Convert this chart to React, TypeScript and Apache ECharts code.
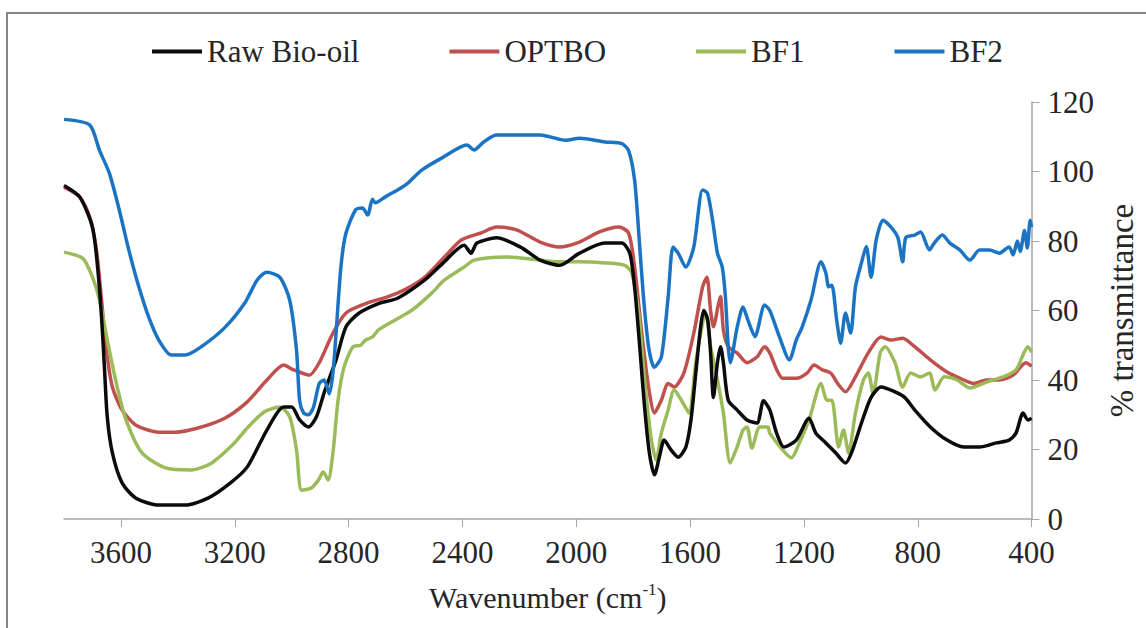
import React, { useEffect, useRef } from "react";
import * as echarts from "echarts";

// FTIR spectra: wavenumber (cm-1) and % transmittance for each sample
const rawWn = [3800, 3745, 3700, 3682, 3668, 3658, 3648, 3630, 3596, 3547, 3467, 3374, 3294, 3215, 3156, 3087, 3028, 3000, 2972, 2941, 2913, 2886, 2844, 2809, 2764, 2695, 2626, 2532, 2470, 2394, 2370, 2349, 2280, 2197, 2127, 2058, 1989, 1899, 1840, 1812, 1795, 1777, 1760, 1743, 1725, 1708, 1691, 1667, 1642, 1615, 1597, 1580, 1563, 1552, 1538, 1528, 1518, 1504, 1493, 1483, 1466, 1435, 1400, 1365, 1342, 1320, 1296, 1270, 1227, 1182, 1158, 1123, 1088, 1054, 1033, 998, 964, 929, 880, 846, 811, 756, 697, 638, 583, 524, 479, 455, 430, 413, 400];
const rawT = [96, 92.7, 84, 72.5, 58, 43.7, 29.4, 19, 10.4, 6, 4, 4, 6, 10.4, 15, 25.6, 32.2, 32.2, 28.5, 26.5, 29.4, 36.3, 45.8, 55.3, 59.2, 62, 63.6, 68.8, 73.5, 78.8, 76.5, 79.4, 80.9, 78.3, 74.5, 73, 76.5, 79.4, 79.4, 76.5, 66.8, 49.6, 32.2, 19, 12.7, 17.8, 22.7, 19.9, 17.8, 20.7, 28.5, 42, 55.3, 60, 57.3, 47.8, 35, 45, 49.6, 45, 34.2, 31.4, 28.5, 27.6, 34, 31.4, 24.7, 20.7, 22.7, 29, 24.7, 21.9, 19, 16.1, 19, 27.6, 35, 38, 36.6, 35, 31.4, 26.5, 22.7, 20.7, 20.7, 21.9, 22.7, 24.7, 30.5, 28.5, 29];

const optWn = [3800, 3745, 3710, 3686, 3668, 3651, 3630, 3596, 3547, 3467, 3409, 3329, 3235, 3156, 3087, 3028, 2993, 2938, 2903, 2855, 2809, 2740, 2661, 2602, 2532, 2463, 2404, 2335, 2280, 2210, 2127, 2058, 1989, 1919, 1850, 1816, 1795, 1771, 1746, 1725, 1701, 1677, 1656, 1622, 1587, 1556, 1541, 1528, 1518, 1500, 1493, 1483, 1466, 1435, 1400, 1365, 1338, 1320, 1296, 1275, 1227, 1189, 1164, 1137, 1106, 1078, 1054, 1019, 974, 929, 894, 853, 811, 756, 697, 638, 603, 558, 513, 465, 420, 400];
const optT = [95.5, 92.7, 87, 77.4, 63, 48.6, 38, 31.4, 27, 25, 25, 26.2, 29, 33.7, 40, 44.3, 42.9, 41.4, 45, 53.5, 59.3, 62, 64, 66, 69.6, 75.4, 80.3, 82.3, 84, 83.2, 79.7, 78.3, 79.7, 82.6, 84, 82.3, 72.5, 54.4, 38, 30.5, 34.2, 39, 38, 42, 53.5, 66.8, 69.6, 60, 55.3, 62, 64, 54.4, 49.6, 47.8, 45, 46.6, 49.6, 47.8, 43, 40.5, 40.5, 42, 44.3, 43, 42, 38.6, 36.6, 40.9, 47.8, 52.4, 51.5, 52, 49.6, 45.8, 42.3, 40, 39, 40, 40, 41.4, 45, 44];

const bf1Wn = [3800, 3734, 3700, 3675, 3648, 3616, 3582, 3526, 3443, 3353, 3284, 3201, 3156, 3097, 3042, 3007, 2983, 2965, 2931, 2906, 2889, 2872, 2855, 2837, 2816, 2785, 2758, 2740, 2716, 2695, 2636, 2577, 2508, 2463, 2394, 2359, 2245, 2127, 2058, 1989, 1899, 1829, 1805, 1781, 1760, 1736, 1719, 1701, 1677, 1656, 1625, 1604, 1580, 1556, 1545, 1528, 1504, 1483, 1459, 1435, 1414, 1400, 1383, 1355, 1327, 1320, 1275, 1244, 1216, 1182, 1140, 1119, 1102, 1078, 1061, 1043, 1019, 991, 974, 957, 932, 915, 880, 853, 825, 790, 759, 739, 707, 662, 617, 558, 500, 455, 427, 413, 400];
const bf1T = [76.8, 75, 69.6, 63, 51.5, 39, 28.5, 19, 14.7, 14.1, 16, 21.9, 26.2, 30.8, 32.2, 29.4, 19.9, 8.3, 8.9, 11.2, 13.5, 11.2, 19, 34.2, 43.7, 49.5, 50, 51.5, 52.4, 54.4, 57.3, 60.1, 65, 68.8, 72.5, 74.5, 75.4, 74.5, 74, 74, 73.7, 73, 70.8, 59.3, 40, 22.7, 17, 24.7, 31.4, 37.1, 33.4, 30.5, 45, 56.4, 59.3, 49.6, 40, 30.5, 16.1, 20.7, 25.6, 26.5, 20.4, 26.5, 26.5, 24.7, 19.9, 17.6, 21.9, 28.5, 39, 34.2, 34.2, 20.7, 25.6, 19, 30.5, 40, 42, 36.2, 47.8, 49.6, 45, 38, 42, 40.9, 42, 37.1, 40.9, 40, 37.7, 39.4, 40.9, 42.9, 47.8, 49.6, 48];

const bf2Wn = [3800, 3710, 3675, 3641, 3606, 3571, 3537, 3502, 3467, 3423, 3374, 3319, 3236, 3166, 3121, 3087, 3042, 3007, 2983, 2972, 2958, 2941, 2924, 2903, 2886, 2868, 2855, 2844, 2827, 2810, 2775, 2751, 2733, 2716, 2706, 2671, 2612, 2591, 2543, 2470, 2384, 2359, 2325, 2280, 2127, 2037, 1989, 1899, 1840, 1816, 1795, 1781, 1764, 1746, 1726, 1701, 1677, 1660, 1642, 1615, 1587, 1556, 1539, 1521, 1504, 1487, 1476, 1466, 1459, 1435, 1414, 1397, 1372, 1338, 1320, 1286, 1251, 1227, 1206, 1175, 1140, 1123, 1113, 1102, 1085, 1071, 1054, 1036, 1019, 998, 981, 964, 946, 922, 894, 870, 853, 842, 811, 790, 759, 742, 714, 687, 652, 617, 583, 548, 513, 479, 465, 450, 440, 425, 415, 405, 400];
const bf2T = [115, 113.4, 106, 99.6, 89, 77, 66.8, 58, 51.5, 47.2, 47.2, 49.5, 55, 62, 68.8, 71, 69.6, 63, 48.6, 34, 30.5, 30, 32, 39, 40, 36, 42, 53.5, 72.5, 82, 89, 89.5, 87.5, 92, 91, 92.7, 95.5, 96.7, 100.4, 104, 107.6, 106.2, 108.5, 110.5, 110.5, 109, 109.6, 108.5, 108, 106, 97.5, 83, 64, 49.6, 43.7, 46.6, 64, 78.3, 76.5, 72.5, 78.3, 94.7, 93.8, 86, 76.5, 72.5, 64, 49.6, 45, 55, 61, 57.3, 52.5, 61.6, 60, 52.4, 45.8, 51.5, 55.3, 63, 74, 70.8, 66.8, 67.3, 57.3, 50.6, 59.3, 53.5, 66.8, 73.7, 78.4, 69.6, 80.3, 86, 84, 81, 74, 81, 81.7, 82.6, 77.4, 79.4, 81.7, 79.4, 77.4, 74.5, 77.4, 77.4, 76.5, 78.3, 76, 80, 77, 83, 78, 86, 84];

const tickValues = [3600, 3200, 2800, 2400, 2000, 1600, 1200, 800, 400];

const seriesNames = ["Raw Bio-oil", "OPTBO", "BF1", "BF2"];
const seriesColors = ["#0b0b0b", "#c0504d", "#9bbb59", "#1b74c3"];

const FONT = "Liberation Serif, Times New Roman, serif";
const TEXT = "#262626";

function pairs(wn: number[], t: number[]) {
  return wn.map((w, i) => [w, t[i]]);
}

export default function App() {
  const ref = useRef<HTMLDivElement>(null);

  useEffect(() => {
    document.body.style.margin = "0";
    if (!ref.current) return;
    const chart = echarts.init(ref.current, null, { renderer: "svg" });
    const datasets = [
      pairs(rawWn, rawT),
      pairs(optWn, optT),
      pairs(bf1Wn, bf1T),
      pairs(bf2Wn, bf2T),
    ];
    chart.setOption({
      animation: false,
      backgroundColor: "#ffffff",
      textStyle: { fontFamily: FONT },
      graphic: [
        {
          type: "rect",
          shape: { x: 7, y: 13, width: 1200, height: 700 },
          style: { fill: "none", stroke: "#858585", lineWidth: 2 },
          silent: true,
          z: -1,
        },
      ],
      legend: {
        top: 31,
        left: 147,
        itemGap: 90,
        itemWidth: 50,
        itemHeight: 4,
        icon: "rect",
        textStyle: { fontFamily: FONT, fontSize: 31, color: TEXT },
        data: seriesNames,
      },
      grid: { left: 64, right: 101, top: 102, bottom: 109 },
      xAxis: {
        type: "value",
        inverse: true,
        min: 400,
        max: 3800,
        interval: 400,
        name: "{a|Wavenumber (cm}{b|-1}{a|)}",
        nameLocation: "middle",
        nameGap: 62,
        nameTextStyle: {
          fontFamily: FONT,
          rich: {
            a: { fontFamily: FONT, fontSize: 30, color: TEXT, lineHeight: 32 },
            b: { fontFamily: FONT, fontSize: 17, color: TEXT, verticalAlign: "top", lineHeight: 32 },
          },
        },
        axisLine: { show: true, lineStyle: { color: "#a6a6a6", width: 1.5 } },
        axisTick: { show: true, length: 8, customValues: tickValues, lineStyle: { color: "#a6a6a6" } },
        axisLabel: {
          customValues: tickValues,
          formatter: (v: number) => String(v),
          margin: 18,
          fontFamily: FONT,
          fontSize: 31,
          color: TEXT,
        },
        splitLine: { show: false },
      },
      yAxis: {
        type: "value",
        position: "right",
        min: 0,
        max: 120,
        interval: 20,
        name: "% transmittance",
        nameLocation: "middle",
        nameRotate: 90,
        nameGap: 72,
        nameTextStyle: { fontFamily: FONT, fontSize: 33, color: TEXT },
        axisLine: { show: true, lineStyle: { color: "#a6a6a6", width: 1.5 } },
        axisTick: { show: true, length: 8, lineStyle: { color: "#a6a6a6" } },
        axisLabel: { margin: 16, fontFamily: FONT, fontSize: 31, color: TEXT },
        splitLine: { show: false },
      },
      series: seriesNames.map((name, i) => ({
        name,
        type: "line",
        data: datasets[i],
        showSymbol: false,
        smooth: 0.25,
        color: seriesColors[i],
        lineStyle: { width: 3.5, color: seriesColors[i] },
        z: i === 0 ? 5 : 2 + i,
      })),
    });
    return () => chart.dispose();
  }, []);

  return <div ref={ref} style={{ width: 1146, height: 628 }} />;
}
